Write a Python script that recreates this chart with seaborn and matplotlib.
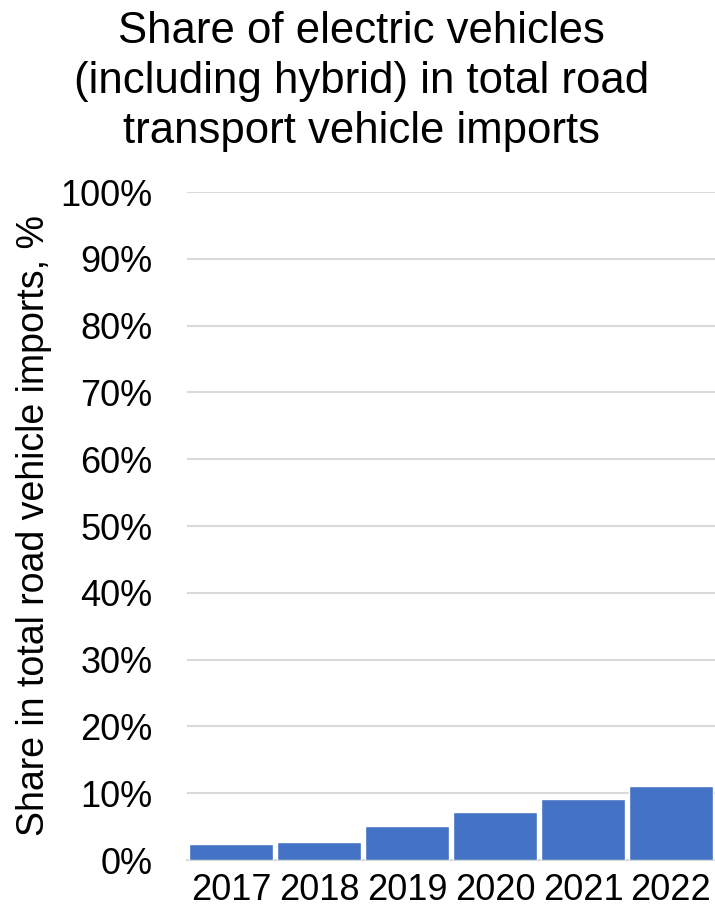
import matplotlib
matplotlib.use("Agg")
import matplotlib.pyplot as plt
import seaborn as sns
import pandas as pd
from matplotlib.ticker import PercentFormatter

years = ["2017", "2018", "2019", "2020", "2021", "2022"]
ev_share = [2.35, 2.75, 5.1, 7.25, 9.1, 11.1]  # % of road vehicle imports
yticks = list(range(0, 101, 10))

df = pd.DataFrame({"year": years, "share": ev_share})

sns.set_theme(style="white")
plt.rcParams["font.family"] = ["Liberation Sans", "DejaVu Sans"]
plt.rcParams["text.color"] = "black"
plt.rcParams["axes.labelcolor"] = "black"

fig = plt.figure(figsize=(7.15, 9.22), dpi=100)
ax = fig.add_axes([187 / 715, 62 / 922, 528 / 715, 668 / 922])

sns.barplot(data=df, x="year", y="share", color="#4472C4", width=0.95,
            saturation=1, ax=ax, zorder=3)

ax.set_ylim(0, 100)
ax.set_xlim(-0.5, 5.5)
ax.set_yticks(yticks)
ax.yaxis.set_major_formatter(PercentFormatter(decimals=0))
ax.grid(axis="y", color="#d9d9d9", linewidth=1.5, zorder=0)
ax.tick_params(axis="both", length=0, labelsize=26, colors="black")
ax.tick_params(axis="y", pad=25)
ax.tick_params(axis="x", pad=9)
for s in ["top", "right", "left"]:
    ax.spines[s].set_visible(False)
ax.spines["bottom"].set_color("#d9d9d9")
ax.spines["bottom"].set_linewidth(1.5)

ax.set_xlabel("")
ax.set_ylabel("Share in total road vehicle imports, %", fontsize=27, labelpad=6)

fig.text(0.506, 0.988, "Share of electric vehicles\n(including hybrid) in total road\ntransport vehicle imports",
         ha="center", va="top", fontsize=31.5, linespacing=1.28)

fig.savefig("out.png", dpi=100)
